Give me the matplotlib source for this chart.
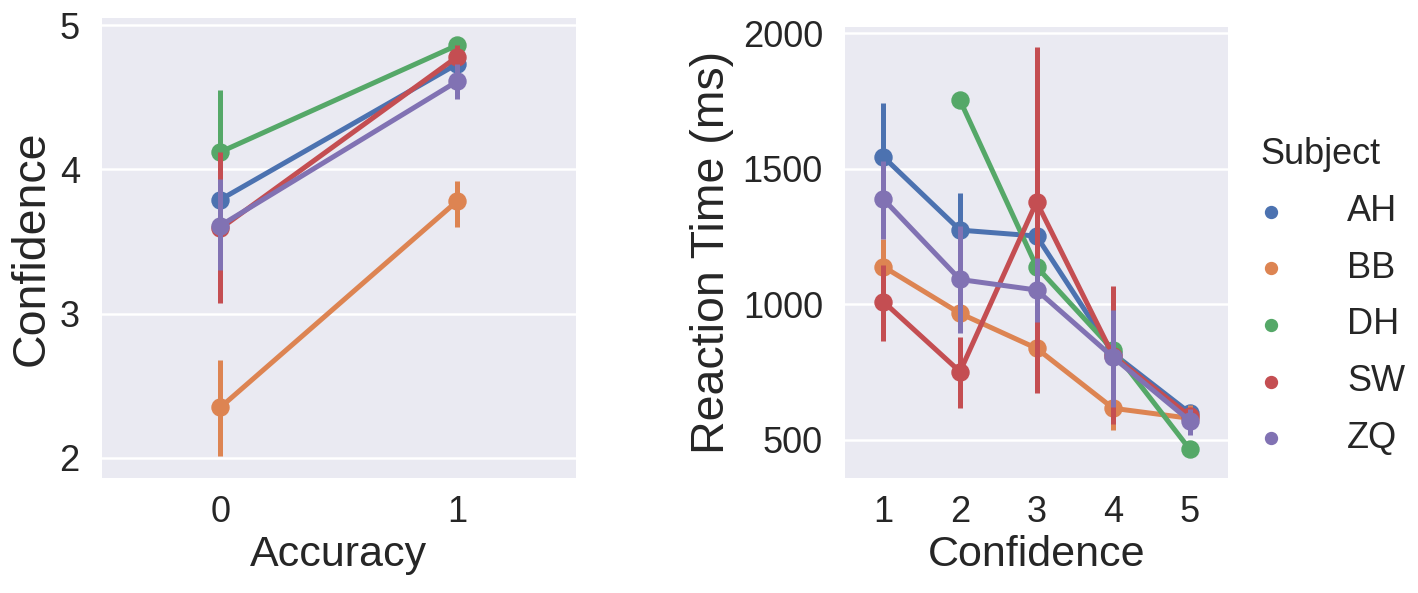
import numpy as np
import matplotlib
matplotlib.use("Agg")
import matplotlib.pyplot as plt

plt.rcParams['font.family'] = ['Liberation Sans', 'DejaVu Sans']

subjects = ["AH", "BB", "DH", "SW", "ZQ"]
colors = ["#4C72B0", "#DD8452", "#55A868", "#C44E52", "#8172B3"]

# left panel: confidence by accuracy (0, 1)
acc_levels = ["0", "1"]
conf_mean = [[3.79, 4.73], [2.35, 3.78], [4.12, 4.86], [3.59, 4.78], [3.61, 4.61]]
conf_lo = [[3.52, 4.66], [2.01, 3.60], [3.70, 4.82], [3.07, 4.70], [3.30, 4.49]]
conf_hi = [[4.06, 4.80], [2.68, 3.92], [4.55, 4.90], [4.12, 4.86], [3.93, 4.73]]

# right panel: reaction time by confidence (1..5)
conf_levels = ["1", "2", "3", "4", "5"]
nan = np.nan
rt_mean = [[1544, 1274, 1252, 819, 600],
           [1139, 967, 838, 617, 580],
           [nan, 1753, 1139, 832, 466],
           [1010, 752, 1378, 811, 588],
           [1388, 1092, 1053, 805, 571]]
rt_lo = [[1350, 1140, 1130, 700, 570],
         [1040, 900, 780, 537, 540],
         [nan, 1730, 1100, 790, 450],
         [866, 617, 674, 560, 560],
         [1243, 893, 936, 622, 520]]
rt_hi = [[1741, 1411, 1375, 940, 630],
         [1243, 1035, 900, 700, 629],
         [nan, 1775, 1180, 870, 480],
         [1145, 881, 1950, 1067, 615],
         [1530, 1290, 1170, 979, 615]]

TICK_FS = 26
XLABEL_FS = 31
YLABEL_FS = 33.5
TXT = "#262626"


def style(ax):
    ax.set_facecolor("#EAEAF2")
    for s in ax.spines.values():
        s.set_visible(False)
    ax.yaxis.grid(True, color="white", lw=1.8)
    ax.set_axisbelow(True)
    ax.tick_params(length=0, labelsize=TICK_FS, colors=TXT)
    ax.tick_params(axis="y", pad=16)
    ax.tick_params(axis="x", pad=12)


def pointplot(ax, cats, mean, lo, hi):
    x = np.arange(len(cats))
    handles = []
    for j, name in enumerate(subjects):
        m = np.array(mean[j], float)
        z = j + 1
        ax.plot(x, m, color=colors[j], lw=3.6, zorder=z)
        ax.vlines(x, lo[j], hi[j], color=colors[j], lw=3.6, zorder=z)
        h = ax.scatter(x, m, s=150, color=colors[j], zorder=z, label=name)
        handles.append(h)
    ax.set_xticks(x)
    ax.set_xticklabels(cats)
    ax.set_xlim(-0.5, len(cats) - 0.5)
    return handles


fig = plt.figure(figsize=(14.18, 5.93), dpi=100)
ax1 = fig.add_axes([0.072, 0.194, 0.334, 0.776])
ax2 = fig.add_axes([0.596, 0.194, 0.270, 0.760])

style(ax1)
pointplot(ax1, acc_levels, conf_mean, conf_lo, conf_hi)
ax1.set_ylim(1.86, 5.05)
ax1.set_yticks([2, 3, 4, 5])
ax1.set_xlabel("Accuracy", fontsize=XLABEL_FS, color=TXT, labelpad=4)
ax1.set_ylabel("Confidence", fontsize=YLABEL_FS, color=TXT, labelpad=4)

style(ax2)
handles = pointplot(ax2, conf_levels, rt_mean, rt_lo, rt_hi)
ax2.set_ylim(360, 2022)
ax2.set_yticks([500, 1000, 1500, 2000])
ax2.set_xlabel("Confidence", fontsize=XLABEL_FS, color=TXT, labelpad=4)
ax2.set_ylabel("Reaction Time (ms)", fontsize=YLABEL_FS, color=TXT, labelpad=6)

leg = fig.legend(handles=handles, labels=subjects, loc="center left",
                 bbox_to_anchor=(0.848, 0.5), frameon=False, title="Subject",
                 fontsize=TICK_FS, title_fontsize=TICK_FS, handletextpad=1.1,
                 labelspacing=0.6, markerscale=0.7)
for t in leg.get_texts():
    t.set_color(TXT)
leg.get_title().set_color(TXT)

fig.savefig("out.png", dpi=100)
